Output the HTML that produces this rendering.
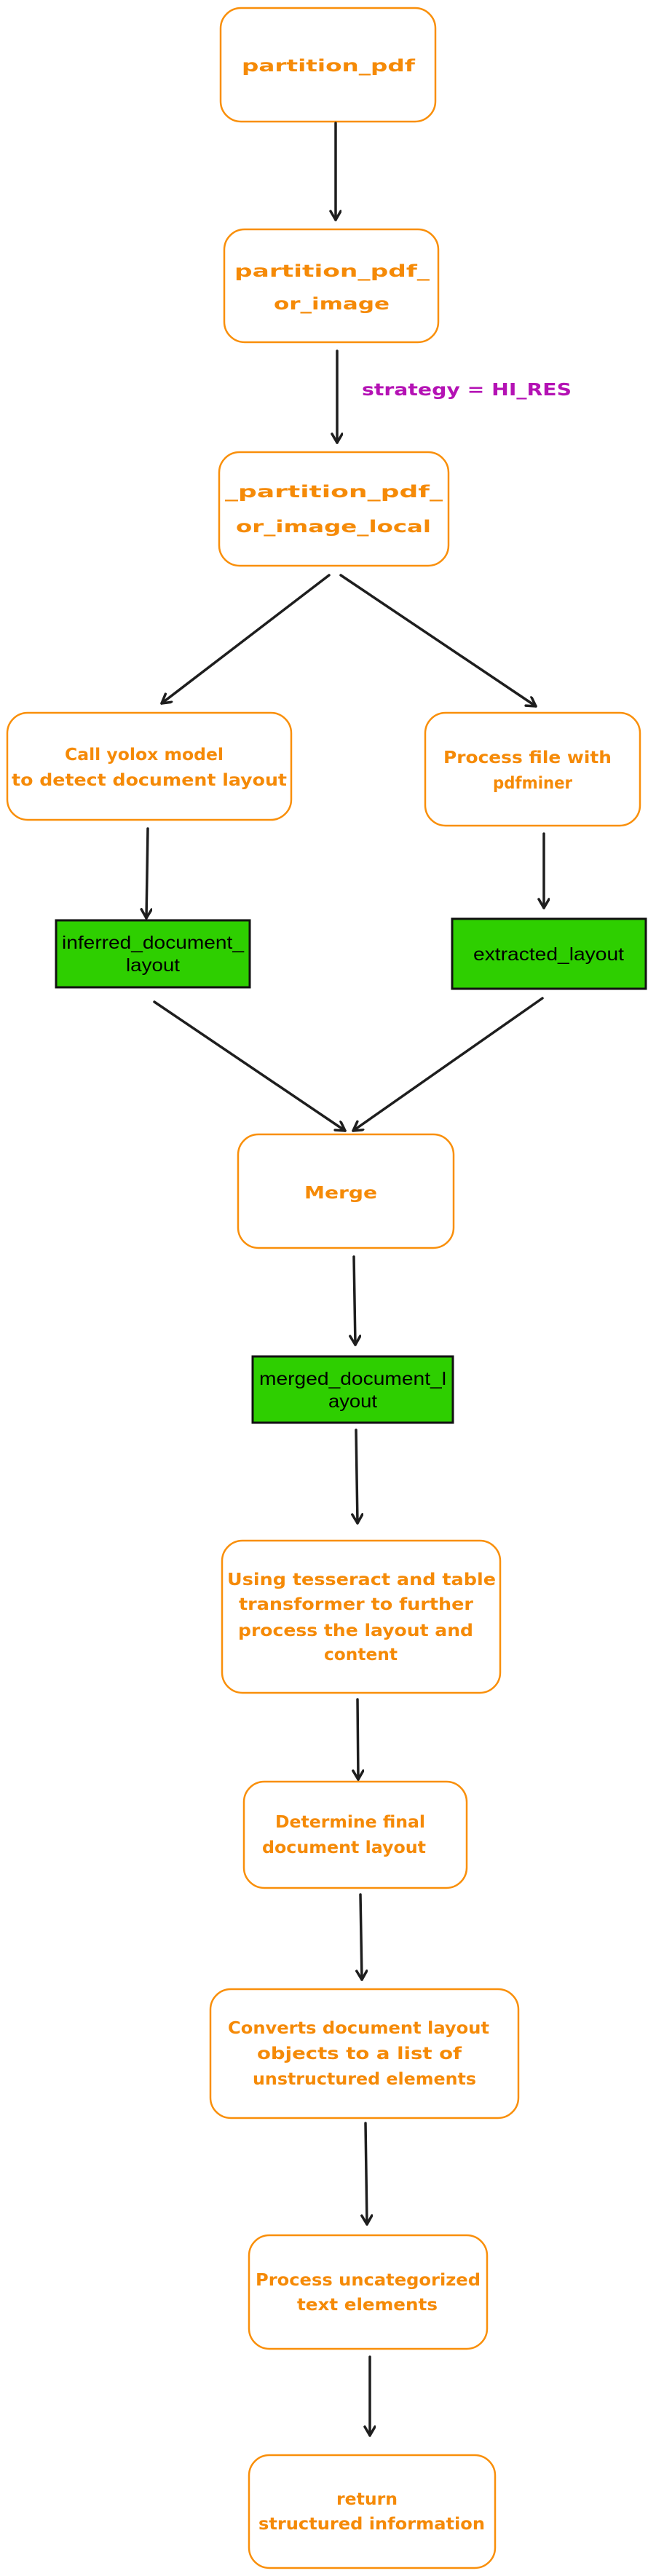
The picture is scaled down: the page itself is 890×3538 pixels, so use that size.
<!DOCTYPE html>
<html><head><meta charset="utf-8"><style>
html,body{margin:0;padding:0;background:#fff;}
svg{display:block;}
.o{fill:#fff;stroke:#f98f0a;stroke-width:2.5;}
.g{fill:#2ecf00;stroke:#111;stroke-width:3;}
.t{font-family:"DejaVu Sans","Liberation Sans",sans-serif;fill:#f58a07;font-size:23px;font-weight:bold;}
.k{font-family:"Liberation Sans",sans-serif;fill:#000;font-size:25px;}
.a{stroke:#1e1e1e;stroke-width:3.5;fill:none;stroke-linecap:round;stroke-linejoin:round;}
</style></head><body>
<svg width="890" height="3538" viewBox="0 0 890 3538" xmlns="http://www.w3.org/2000/svg">
<defs>
<marker id="h" markerWidth="20" markerHeight="20" refX="14" refY="8" orient="auto" markerUnits="userSpaceOnUse">
<path d="M2,1 L14,8 L2,15" fill="none" stroke="#1e1e1e" stroke-width="3.5" stroke-linecap="round" stroke-linejoin="round"/>
</marker>
</defs>

<!-- boxes -->
<rect class="o" x="303" y="11" width="295" height="156" rx="28"/>
<rect class="o" x="308" y="315" width="294" height="155" rx="28"/>
<rect class="o" x="301" y="621" width="315" height="156" rx="28"/>
<rect class="o" x="10" y="979" width="390" height="147" rx="28"/>
<rect class="o" x="584" y="979" width="295" height="155" rx="28"/>
<rect class="g" x="77" y="1264" width="266" height="92"/>
<rect class="g" x="621" y="1262" width="266" height="96"/>
<rect class="o" x="327" y="1558" width="296" height="156" rx="28"/>
<rect class="g" x="347" y="1863" width="275" height="91"/>
<rect class="o" x="305" y="2116" width="382" height="209" rx="28"/>
<rect class="o" x="335" y="2447" width="306" height="146" rx="28"/>
<rect class="o" x="289" y="2732" width="423" height="177" rx="28"/>
<rect class="o" x="342" y="3070" width="327" height="156" rx="28"/>
<rect class="o" x="342" y="3372" width="338" height="155" rx="28"/>

<!-- arrows -->
<line class="a" x1="461" y1="169" x2="461" y2="302" marker-end="url(#h)"/>
<line class="a" x1="463" y1="482" x2="463" y2="608" marker-end="url(#h)"/>
<line class="a" x1="452" y1="790" x2="222" y2="966" marker-end="url(#h)"/>
<line class="a" x1="468" y1="790" x2="736" y2="970" marker-end="url(#h)"/>
<line class="a" x1="203" y1="1138" x2="201" y2="1261" marker-end="url(#h)"/>
<line class="a" x1="747" y1="1145" x2="747" y2="1247" marker-end="url(#h)"/>
<line class="a" x1="212" y1="1376" x2="474" y2="1553" marker-end="url(#h)"/>
<line class="a" x1="745" y1="1371" x2="485" y2="1553" marker-end="url(#h)"/>
<line class="a" x1="486" y1="1726" x2="488" y2="1847" marker-end="url(#h)"/>
<line class="a" x1="489" y1="1964" x2="491" y2="2092" marker-end="url(#h)"/>
<line class="a" x1="491" y1="2334" x2="492" y2="2444" marker-end="url(#h)"/>
<line class="a" x1="495" y1="2602" x2="497" y2="2719" marker-end="url(#h)"/>
<line class="a" x1="502" y1="2916" x2="504" y2="3055" marker-end="url(#h)"/>
<line class="a" x1="508" y1="3237" x2="508" y2="3345" marker-end="url(#h)"/>

<!-- labels -->
<text class="t" x="332" y="98" font-size="31" textLength="238" lengthAdjust="spacingAndGlyphs">partition_pdf</text>
<text class="t" x="322" y="380" font-size="30" textLength="268" lengthAdjust="spacingAndGlyphs">partition_pdf_</text>
<text class="t" x="376" y="425" font-size="30" textLength="159" lengthAdjust="spacingAndGlyphs">or_image</text>
<text class="t" x="497" y="543" font-size="23" style="fill:#b412b4" textLength="288" lengthAdjust="spacingAndGlyphs">strategy = HI_RES</text>
<text class="t" x="309" y="683" font-size="30" textLength="299" lengthAdjust="spacingAndGlyphs">_partition_pdf_</text>
<text class="t" x="324" y="731" font-size="30" textLength="268" lengthAdjust="spacingAndGlyphs">or_image_local</text>
<text class="t" x="89" y="1044" textLength="218" lengthAdjust="spacingAndGlyphs">Call yolox model</text>
<text class="t" x="16" y="1079" textLength="378" lengthAdjust="spacingAndGlyphs">to detect document layout</text>
<text class="t" x="609" y="1048" textLength="231" lengthAdjust="spacingAndGlyphs">Process file with</text>
<text class="t" x="677" y="1083" textLength="109" lengthAdjust="spacingAndGlyphs">pdfminer</text>
<text class="k" x="85" y="1303" textLength="250" lengthAdjust="spacingAndGlyphs">inferred_document_</text>
<text class="k" x="173" y="1334" textLength="74" lengthAdjust="spacingAndGlyphs">layout</text>
<text class="k" x="650" y="1319" textLength="207" lengthAdjust="spacingAndGlyphs">extracted_layout</text>
<text class="t" x="418" y="1646" font-size="28" textLength="100" lengthAdjust="spacingAndGlyphs">Merge</text>
<text class="k" x="356" y="1902" textLength="257" lengthAdjust="spacingAndGlyphs">merged_document_l</text>
<text class="k" x="451" y="1933" textLength="67" lengthAdjust="spacingAndGlyphs">ayout</text>
<text class="t" x="312" y="2177" textLength="369" lengthAdjust="spacingAndGlyphs">Using tesseract and table</text>
<text class="t" x="328" y="2211" textLength="322" lengthAdjust="spacingAndGlyphs">transformer to further</text>
<text class="t" x="327" y="2247" textLength="323" lengthAdjust="spacingAndGlyphs">process the layout and</text>
<text class="t" x="445" y="2280" textLength="101" lengthAdjust="spacingAndGlyphs">content</text>
<text class="t" x="378" y="2510" textLength="206" lengthAdjust="spacingAndGlyphs">Determine final</text>
<text class="t" x="360" y="2545" textLength="225" lengthAdjust="spacingAndGlyphs">document layout</text>
<text class="t" x="313" y="2793" textLength="359" lengthAdjust="spacingAndGlyphs">Converts document layout</text>
<text class="t" x="353" y="2828" textLength="281" lengthAdjust="spacingAndGlyphs">objects to a list of</text>
<text class="t" x="347" y="2863" textLength="307" lengthAdjust="spacingAndGlyphs">unstructured elements</text>
<text class="t" x="351" y="3139" textLength="309" lengthAdjust="spacingAndGlyphs">Process uncategorized</text>
<text class="t" x="408" y="3173" textLength="193" lengthAdjust="spacingAndGlyphs">text elements</text>
<text class="t" x="462" y="3440" textLength="84" lengthAdjust="spacingAndGlyphs">return</text>
<text class="t" x="355" y="3474" textLength="311" lengthAdjust="spacingAndGlyphs">structured information</text>
</svg>
</body></html>
